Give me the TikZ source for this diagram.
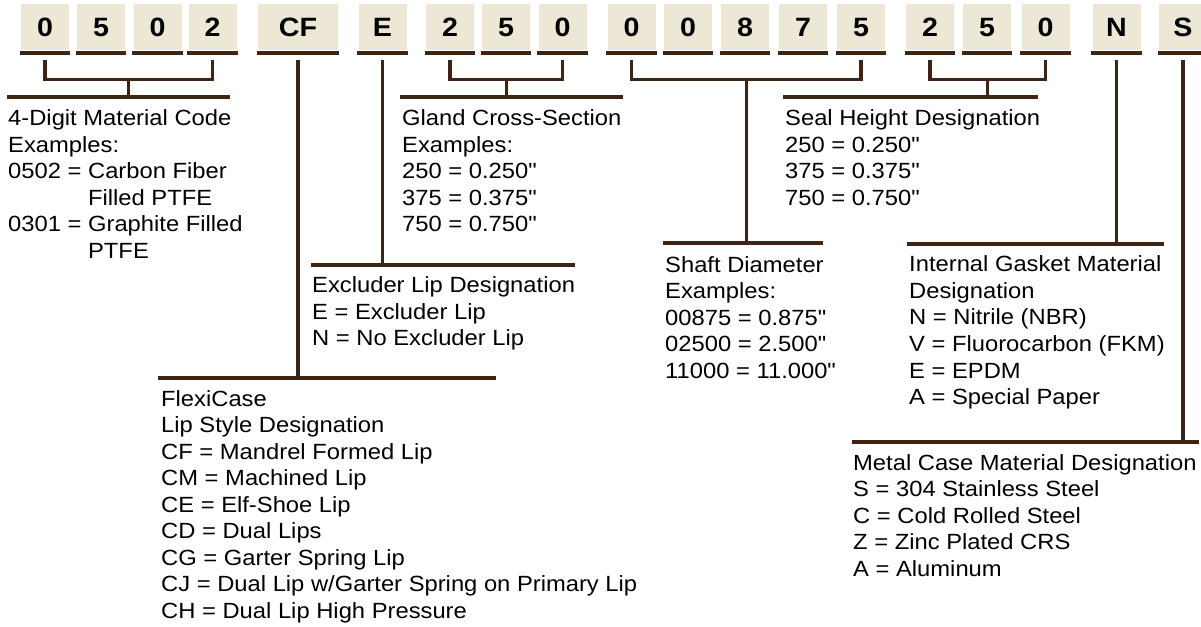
\documentclass[tikz,border=0pt]{standalone}
\usepackage{fontspec}
\setmainfont{Liberation Sans}[FakeStretch=1.08]
\usetikzlibrary{calc}
\definecolor{boxfill}{HTML}{EDE8D6}
\definecolor{lineb}{HTML}{3E2414}
\newcommand{\inch}{\textquotedbl}
\begin{document}
\begin{tikzpicture}[x=1bp,y=-1bp,
  digit/.style={fill=boxfill, minimum width=48bp, minimum height=46bp, inner sep=0pt,
    font=\fontsize{26.5bp}{30bp}\selectfont\bfseries},
  uline/.style={draw=lineb, line width=4.5bp},
  bar/.style={draw=lineb, line width=4.5bp},
  conn/.style={draw=lineb, line width=3.3bp},
  txt/.style={anchor=base west, inner sep=0pt, font=\fontsize{22bp}{26.5bp}\selectfont}]
\useasboundingbox (0,0) rectangle (1201,627);

% code boxes
\node[digit] (b1) at (45,27.5) {0};
\node[digit] (b2) at (101,27.5) {5};
\node[digit] (b3) at (157.5,27.5) {0};
\node[digit] (b4) at (212.5,27.5) {2};
\node[digit, minimum width=80bp] (bCF) at (298,27.5) {CF};
\node[digit] (bE) at (382.5,27.5) {E};
\node[digit] (g1) at (450,27.5) {2};
\node[digit] (g2) at (506,27.5) {5};
\node[digit] (g3) at (562.5,27.5) {0};
\node[digit] (s1) at (631.5,27.5) {0};
\node[digit] (s2) at (688,27.5) {0};
\node[digit] (s3) at (745,27.5) {8};
\node[digit] (s4) at (803,27.5) {7};
\node[digit] (s5) at (861,27.5) {5};
\node[digit] (h1) at (930,27.5) {2};
\node[digit] (h2) at (987,27.5) {5};
\node[digit] (h3) at (1045.5,27.5) {0};
\node[digit] (bN) at (1116.5,27.5) {N};
\node[digit] (bS) at (1183,27.5) {S};

\foreach \n in {b1,b2,b3,b4,bCF,bE,g1,g2,g3,s1,s2,s3,s4,s5,h1,h2,h3,bN,bS}
  \draw[uline] ([xshift=-1bp,yshift=-2.3bp]\n.south west) -- ([xshift=1bp,yshift=-2.3bp]\n.south east);

% bars
\coordinate (matL) at (7,97);    \coordinate (matR) at (230,97);
\coordinate (glaL) at (400,97);  \coordinate (glaR) at (623,97);
\coordinate (seaL) at (783,97);  \coordinate (seaR) at (1038,97);
\coordinate (shaL) at (663,243); \coordinate (shaR) at (823,243);
\coordinate (gasL) at (907,244); \coordinate (gasR) at (1164,244);
\coordinate (excL) at (311,265); \coordinate (excR) at (575,265);
\coordinate (flxL) at (158,378); \coordinate (flxR) at (496,378);
\coordinate (metL) at (852,442); \coordinate (metR) at (1199,442);
\foreach \a/\b in {matL/matR,glaL/glaR,seaL/seaR,shaL/shaR,gasL/gasR,excL/excR,flxL/flxR,metL/metR}
  \draw[bar] (\a) -- (\b);

% brackets
\draw[conn] ($(b1.south)+(0,9)$) -- ($(b1.south)+(0,29)$) -| ($(b4.south)+(0,9)$);
\coordinate (m1) at ($(b1.south)!0.5!(b4.south)+(0,29)$);
\draw[conn] (m1) -- (m1 |- matL);

\draw[conn] ($(g1.south)+(0,9)$) -- ($(g1.south)+(0,29)$) -| ($(g3.south)+(0,9)$);
\coordinate (m2) at ($(g1.south)!0.5!(g3.south)+(0,29)$);
\draw[conn] (m2) -- (m2 |- glaL);

\draw[conn] ($(s1.south)+(0,9)$) -- ($(s1.south)+(0,29)$) -| ($(s5.south)+(0,9)$);
\coordinate (m3) at ($(s1.south)!0.5!(s5.south)+(0,29)$);
\draw[conn] (m3) -- (m3 |- shaL);

\draw[conn] ($(h1.south)+(0,9)$) -- ($(h1.south)+(0,29)$) -| ($(h3.south)+(0,9)$);
\coordinate (m4) at ($(h1.south)!0.5!(h3.south)+(0,29)$);
\draw[conn] (m4) -- (m4 |- seaL);

% single stems
\draw[conn] ($(bCF.south)+(0,9)$) -- (bCF.south |- flxL);
\draw[conn] ($(bE.south)+(0,9)$) -- (bE.south |- excL);
\draw[conn] ($(bN.south)+(0,9)$) -- (bN.south |- gasL);
\draw[conn] ($(bS.south)+(0,9)$) -- (bS.south |- metL);

% texts
\node[txt] (tmat) at (8,126) {\begin{tabular}[t]{@{}l@{}}4-Digit Material Code\\Examples:\\0502 = Carbon Fiber\\\hphantom{0502 =}\ Filled PTFE\\0301 = Graphite Filled\\\hphantom{0301 =}\ PTFE\end{tabular}};
\node[txt] (tgla) at (402,126) {\begin{tabular}[t]{@{}l@{}}Gland Cross-Section\\Examples:\\250 = 0.250\inch\\375 = 0.375\inch\\750 = 0.750\inch\end{tabular}};
\node[txt] (tsea) at (785,126) {\begin{tabular}[t]{@{}l@{}}Seal Height Designation\\250 = 0.250\inch\\375 = 0.375\inch\\750 = 0.750\inch\end{tabular}};
\node[txt] (tsha) at (665,272.5) {\begin{tabular}[t]{@{}l@{}}Shaft Diameter\\Examples:\\00875 = 0.875\inch\\02500 = 2.500\inch\\11000 = 11.000\inch\end{tabular}};
\node[txt] (tgas) at (909,272) {\begin{tabular}[t]{@{}l@{}}Internal Gasket Material\\Designation\\N = Nitrile (NBR)\\V = Fluorocarbon (FKM)\\E = EPDM\\A = Special Paper\end{tabular}};
\node[txt] (texc) at (312,293) {\begin{tabular}[t]{@{}l@{}}Excluder Lip Designation\\E = Excluder Lip\\N = No Excluder Lip\end{tabular}};
\node[txt] (tflx) at (161,406) {\begin{tabular}[t]{@{}l@{}}FlexiCase\\Lip Style Designation\\CF = Mandrel Formed Lip\\CM = Machined Lip\\CE = Elf-Shoe Lip\\CD = Dual Lips\\CG = Garter Spring Lip\\CJ = Dual Lip w/Garter Spring on Primary Lip\\CH = Dual Lip High Pressure\end{tabular}};
\node[txt] (tmet) at (853,470) {\begin{tabular}[t]{@{}l@{}}Metal Case Material Designation\\S = 304 Stainless Steel\\C = Cold Rolled Steel\\Z = Zinc Plated CRS\\A = Aluminum\end{tabular}};
\end{tikzpicture}
\end{document}
